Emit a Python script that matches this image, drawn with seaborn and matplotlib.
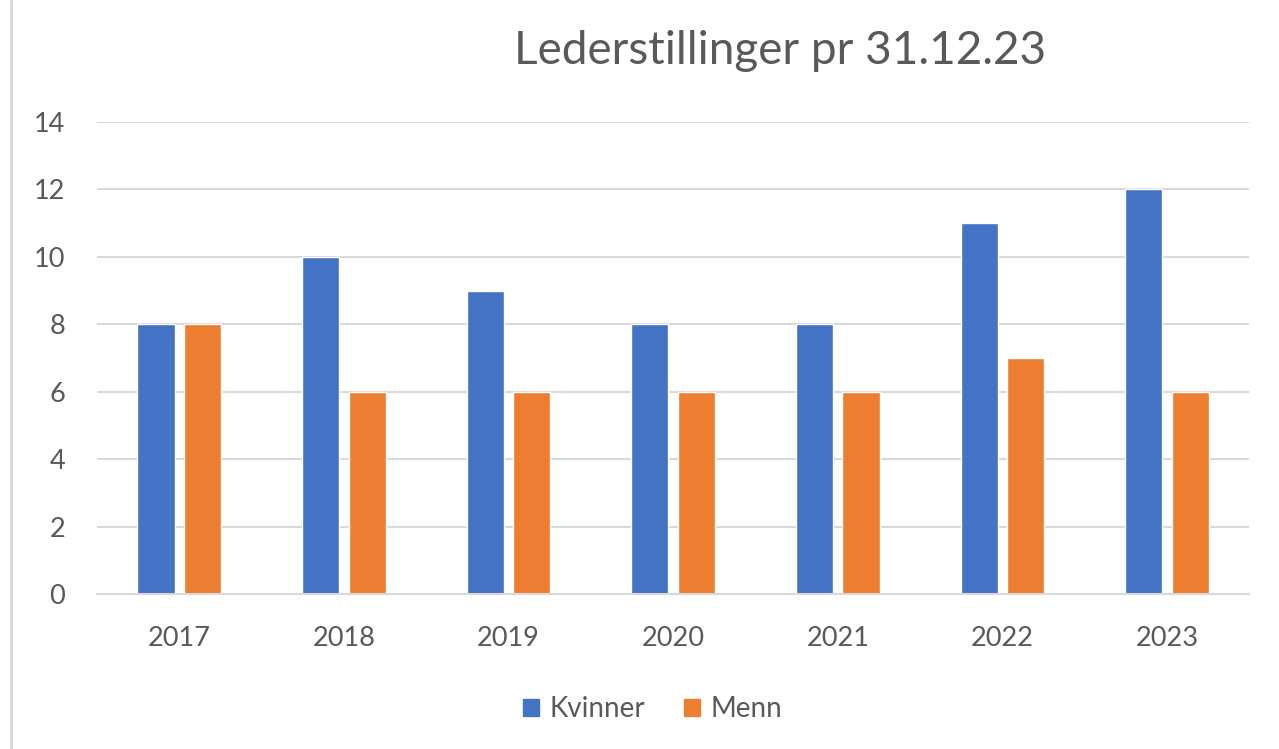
import pandas as pd
import matplotlib.pyplot as plt
import seaborn as sns
from matplotlib.lines import Line2D

aar = ['2017', '2018', '2019', '2020', '2021', '2022', '2023']
kvinner = [8, 10, 9, 8, 8, 11, 12]
menn = [8, 6, 6, 6, 6, 7, 6]
serier = ['Kvinner', 'Menn']
farger = ['#4472C4', '#ED7D31']

df = pd.DataFrame({
    'År': aar * 2,
    'Antall': kvinner + menn,
    'Kjønn': [serier[0]] * len(aar) + [serier[1]] * len(aar),
})

sns.set_style('white')
plt.rcParams['font.family'] = ['Lato', 'DejaVu Sans']
tekstfarge = '#595959'

fig = plt.figure(figsize=(12.79, 7.49), dpi=100)
ax = fig.add_axes([0.0758, 0.207, 0.901, 0.630])

sns.barplot(data=df, x='År', y='Antall', hue='Kjønn', palette=farger,
            width=0.564, gap=0.2, saturation=1, ax=ax, legend=False)

ax.set_ylim(0, 14)
ax.set_xlim(-0.5, 6.5)
ax.set_yticks(range(0, 15, 2))
ax.yaxis.grid(True, color='#D9D9D9', linewidth=1.5)
ax.set_axisbelow(True)
for s in ['top', 'right', 'left']:
    ax.spines[s].set_visible(False)
ax.spines['bottom'].set_color('#D9D9D9')
ax.spines['bottom'].set_linewidth(1.5)
ax.tick_params(axis='both', length=0, labelsize=19.5, colors=tekstfarge)
ax.tick_params(axis='x', pad=23)
ax.tick_params(axis='y', pad=23)
ax.set_xlabel('')
ax.set_ylabel('')

fig.text(0.61, 0.932, 'Lederstillinger pr 31.12.23', ha='center', va='center',
         fontsize=33, color=tekstfarge)

handles = [plt.Rectangle((0, 0), 1, 1, color=c) for c in farger]
fig.legend(handles, serier, loc='center', bbox_to_anchor=(0.51, 0.053), ncol=2,
           frameon=False, fontsize=20, labelcolor=tekstfarge, handlelength=0.6,
           handleheight=0.6, columnspacing=1.4, handletextpad=0.35)

fig.add_artist(Line2D([0.0086, 0.0086], [0, 1], transform=fig.transFigure,
                      color='#D9D9D9', linewidth=2))

fig.savefig('out.png', dpi=100)
